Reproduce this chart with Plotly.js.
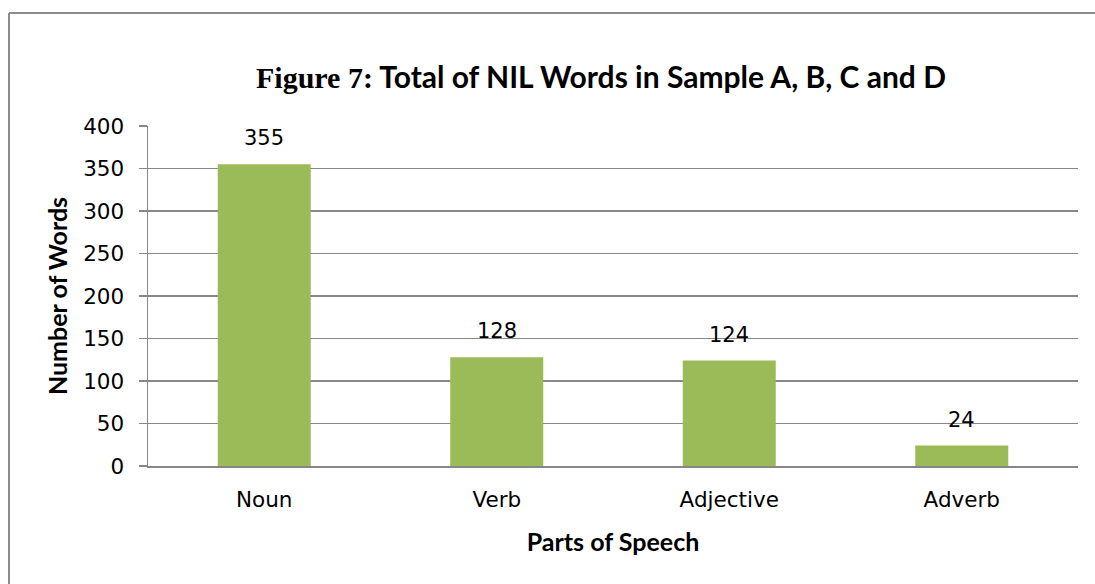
<!DOCTYPE html>
<html>
<head>
<meta charset="utf-8">
<script src="https://cdn.plot.ly/plotly-3.0.1.min.js"></script>
<style>
  html, body { margin: 0; padding: 0; background: #ffffff; }
  #chart { width: 1095px; height: 584px; }
</style>
</head>
<body>
<div id="chart"></div>
<script>
// Parts of speech and the number of NIL words counted for each
const categories = ["Noun", "Verb", "Adjective", "Adverb"];
const wordCounts = [355, 128, 124, 24];
const yTickValues = [0, 50, 100, 150, 200, 250, 300, 350, 400];

const titleText = "Figure 7: Total of NIL Words in Sample A, B, C and D";
const xTitleText = "Parts of Speech";
const yTitleText = "Number of Words";

const boldSans = "'Liberation Sans Narrow', 'Arial Narrow', Lato, sans-serif";
const plainSans = "'DejaVu Sans', Verdana, sans-serif";
const gridGray = "#878787";

const W = 1095, H = 584;
const margin = { l: 148, r: 17, t: 126, b: 118 };
const plotW = W - margin.l - margin.r;
const plotH = H - margin.t - margin.b;

// outer frame of the figure (only its top and left edges fall inside the page)
const frameLeftPx = 9, frameTopPx = 13;
const pxToPaperX = px => (px - margin.l) / plotW;
const pxToPaperY = py => (H - margin.b - py) / plotH;

const titleParts = titleText.split(": ");
const styledTitle =
  '<span style="font-family:\'Liberation Serif\',\'Times New Roman\',serif;font-weight:bold">' +
  titleParts[0] + ':</span> ' + titleParts.slice(1).join(": ");

const trace = {
  type: "bar",
  x: categories,
  y: wordCounts,
  marker: { color: "#9bbb59", line: { width: 0 } },
  hoverinfo: "x+y"
};

const valueLabels = categories.map((c, i) => ({
  x: c,
  y: wordCounts[i],
  xref: "x",
  yref: "y",
  text: String(wordCounts[i]),
  showarrow: false,
  yanchor: "bottom",
  yshift: 12,
  font: { family: plainSans, size: 21, color: "#000000" }
}));

const frameLine = { color: "#8c8c8c", width: 2 };

const layout = {
  width: W,
  height: H,
  margin: margin,
  paper_bgcolor: "#ffffff",
  plot_bgcolor: "#ffffff",
  showlegend: false,
  bargap: 0.6,
  title: {
    text: styledTitle,
    font: { family: boldSans, size: 30, color: "#000000", weight: "bold" },
    xref: "paper",
    x: pxToPaperX(601),
    xanchor: "center",
    yref: "container",
    y: 1 - 77 / H,
    yanchor: "middle"
  },
  xaxis: {
    type: "category",
    showgrid: false,
    showline: true,
    linecolor: gridGray,
    linewidth: 1.5,
    ticks: "",
    ticklabelstandoff: 14,
    tickfont: { family: plainSans, size: 21.5, color: "#000000" },
    title: {
      text: xTitleText,
      font: { family: boldSans, size: 25, color: "#000000", weight: "bold" },
      standoff: 22
    },
    zeroline: false,
    automargin: false,
    fixedrange: true
  },
  yaxis: {
    range: [0, 400],
    tickvals: yTickValues,
    ticktext: yTickValues.map(String),
    showgrid: true,
    gridcolor: gridGray,
    gridwidth: 1.5,
    showline: true,
    linecolor: gridGray,
    linewidth: 1.5,
    ticks: "outside",
    ticklen: 8,
    tickcolor: gridGray,
    tickwidth: 1.5,
    ticklabelstandoff: 10,
    tickfont: { family: plainSans, size: 21.5, color: "#000000" },
    title: {
      text: yTitleText,
      font: { family: boldSans, size: 25, color: "#000000", weight: "bold" },
      standoff: 8
    },
    zeroline: false,
    automargin: false,
    fixedrange: true
  },
  annotations: valueLabels,
  shapes: [
    {
      type: "line", xref: "paper", yref: "paper",
      x0: pxToPaperX(frameLeftPx), x1: pxToPaperX(W + 40),
      y0: pxToPaperY(frameTopPx), y1: pxToPaperY(frameTopPx),
      line: frameLine
    },
    {
      type: "line", xref: "paper", yref: "paper",
      x0: pxToPaperX(frameLeftPx), x1: pxToPaperX(frameLeftPx),
      y0: pxToPaperY(frameTopPx), y1: pxToPaperY(H + 40),
      line: frameLine
    }
  ]
};

Plotly.newPlot("chart", [trace], layout, { displayModeBar: false, staticPlot: true });
</script>
</body>
</html>
